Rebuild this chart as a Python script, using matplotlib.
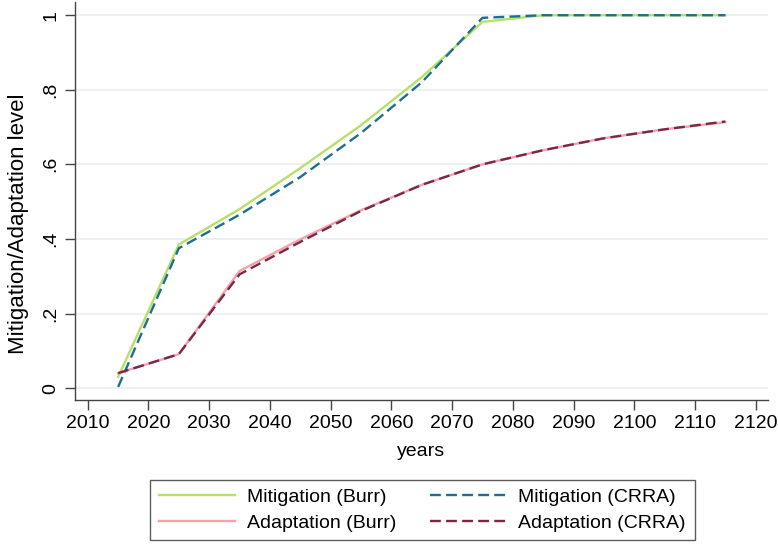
import matplotlib
matplotlib.use("Agg")
import matplotlib.pyplot as plt

years = [2015, 2025, 2035, 2045, 2055, 2065, 2075, 2085, 2095, 2105, 2115]
mit_burr = [0.03, 0.385, 0.48, 0.59, 0.705, 0.834, 0.982, 1.0, 1.0, 1.0, 1.0]
mit_crra = [0.003, 0.375, 0.465, 0.566, 0.684, 0.82, 0.993, 1.0, 1.0, 1.0, 1.0]
ada_burr = [0.04, 0.091, 0.314, 0.399, 0.477, 0.545, 0.60, 0.638, 0.67, 0.694, 0.713]
ada_crra = [0.04, 0.091, 0.305, 0.392, 0.475, 0.545, 0.60, 0.638, 0.67, 0.694, 0.715]

xticks = list(range(2010, 2121, 10))
yticks = [0, 0.2, 0.4, 0.6, 0.8, 1.0]
ylabels = ["0", ".2", ".4", ".6", ".8", "1"]

plt.rcParams["font.family"] = ["Liberation Sans", "DejaVu Sans"]

fig = plt.figure(figsize=(7.78, 5.44), dpi=100, facecolor="white")
ax = fig.add_axes([0.0964, 0.2647, 0.8906, 0.7313])

GREEN = "#b6e06a"
PINK = "#f2a2a8"
TEAL = "#1e6f8c"
MAROON = "#7a2846"
dash = (0, (4.6, 2.2))

ax.plot(years, mit_burr, color=GREEN, lw=1.7, label="Mitigation (Burr)")
ax.plot(years, ada_burr, color=PINK, lw=1.7, label="Adaptation (Burr)")
ax.plot(years, mit_crra, color=TEAL, lw=1.7, ls=dash, label="Mitigation (CRRA)")
ax.plot(years, ada_crra, color=MAROON, lw=1.7, ls=dash, label="Adaptation (CRRA)")

ax.set_xlim(2007.9, 2122)
ax.set_ylim(-0.032, 1.035)
ax.set_xticks(xticks)
ax.set_yticks(yticks)
ax.set_yticklabels(ylabels, rotation=90, va="center")
ax.tick_params(labelsize=14, length=7, width=1, color="#444444", pad=4)
ax.grid(axis="y", color="#eaf0f3", lw=1.3)
ax.set_axisbelow(True)
for s in ["top", "right"]:
    ax.spines[s].set_visible(False)
for s in ["left", "bottom"]:
    ax.spines[s].set_color("#444444")
    ax.spines[s].set_linewidth(1.0)

ax.set_xlabel("years", fontsize=14, labelpad=8)
ax.set_ylabel("Mitigation/Adaptation level", fontsize=16)
ax.yaxis.set_label_coords(-0.066, 0.442)

leg = fig.legend(ncol=2, loc="center", bbox_to_anchor=(0.543, 0.0625),
                 fontsize=14, frameon=True, fancybox=False, edgecolor="#333333",
                 handlelength=3.9, columnspacing=1.7, borderpad=0.46,
                 labelspacing=0.4, handletextpad=0.65)
leg.get_frame().set_linewidth(1.0)

fig.savefig("out.png", dpi=100)
